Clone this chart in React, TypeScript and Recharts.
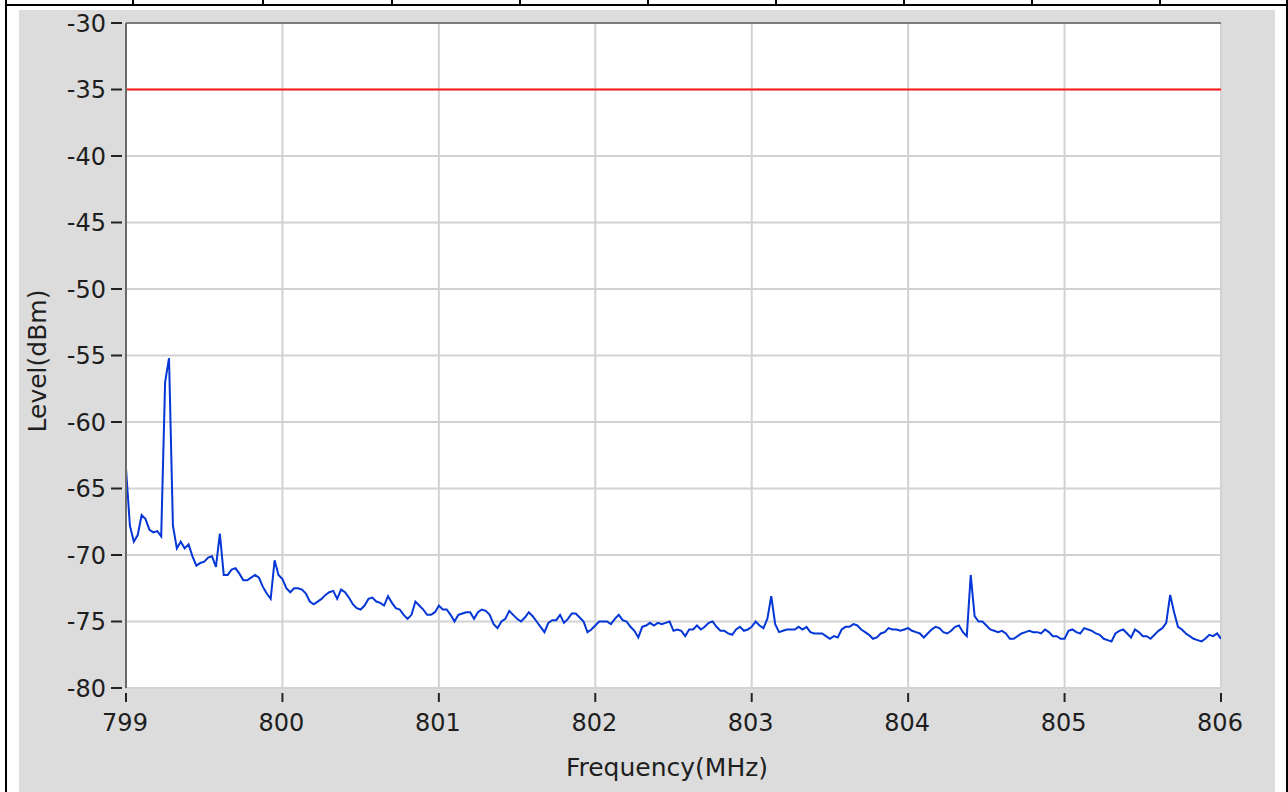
import React from 'react';
import { LineChart, Line, XAxis, YAxis, CartesianGrid, ReferenceLine } from 'recharts';

// Sweep definition
const startFreq = 799;
const freqStep = 0.025;

// Measured level (dBm) at each sweep point, 799.000 ... 806.000 MHz
const levels: number[] = [
  -63.5, -67.8, -69.0, -68.5, -67.0, -67.3, -68.1, -68.3, -68.2, -68.6,
  -57.0, -55.2, -67.8, -69.5, -69.0, -69.5, -69.2, -70.1, -70.8, -70.6,
  -70.5, -70.2, -70.1, -70.9, -68.4, -71.5, -71.5, -71.1, -71.0, -71.4,
  -71.9, -71.9, -71.7, -71.5, -71.7, -72.4, -72.9, -73.3, -70.4, -71.5,
  -71.8, -72.5, -72.8, -72.5, -72.5, -72.6, -72.9, -73.5, -73.7, -73.5,
  -73.3, -73.0, -72.8, -72.7, -73.3, -72.6, -72.8, -73.2, -73.7, -74.0,
  -74.1, -73.8, -73.3, -73.2, -73.5, -73.6, -73.8, -73.1, -73.6, -74.0,
  -74.1, -74.5, -74.8, -74.5, -73.5, -73.8, -74.1, -74.5, -74.5, -74.3,
  -73.8, -74.1, -74.1, -74.5, -75.0, -74.5, -74.4, -74.3, -74.3, -74.8,
  -74.3, -74.1, -74.2, -74.5, -75.2, -75.5, -75.0, -74.8, -74.2, -74.5,
  -74.8, -75.0, -74.7, -74.3, -74.6, -75.0, -75.4, -75.8, -75.1, -74.9,
  -74.9, -74.5, -75.1, -74.8, -74.4, -74.4, -74.7, -75.0, -75.8, -75.6,
  -75.3, -75.0, -75.0, -75.0, -75.2, -74.8, -74.5, -74.9, -75.0, -75.4,
  -75.7, -76.2, -75.4, -75.3, -75.1, -75.3, -75.1, -75.2, -75.1, -75.0,
  -75.7, -75.6, -75.7, -76.1, -75.6, -75.6, -75.3, -75.6, -75.4, -75.1,
  -75.0, -75.4, -75.7, -75.7, -75.9, -76.0, -75.6, -75.4, -75.7, -75.6,
  -75.4, -75.0, -75.3, -75.5, -74.8, -73.1, -75.2, -75.8, -75.7, -75.6,
  -75.6, -75.6, -75.4, -75.6, -75.4, -75.8, -75.9, -75.9, -75.9, -76.1,
  -76.3, -76.1, -76.2, -75.6, -75.4, -75.4, -75.2, -75.3, -75.6, -75.8,
  -76.0, -76.3, -76.2, -75.9, -75.8, -75.5, -75.6, -75.6, -75.7, -75.6,
  -75.5, -75.7, -75.8, -75.9, -76.2, -75.9, -75.6, -75.4, -75.5, -75.8,
  -75.9, -75.7, -75.4, -75.3, -75.8, -76.1, -71.5, -74.6, -75.0, -75.0,
  -75.3, -75.6, -75.7, -75.8, -75.7, -75.9, -76.3, -76.3, -76.1, -75.9,
  -75.8, -75.7, -75.8, -75.8, -75.9, -75.6, -75.8, -76.1, -76.1, -76.3,
  -76.3, -75.7, -75.6, -75.8, -75.9, -75.5, -75.6, -75.7, -75.9, -76.0,
  -76.3, -76.4, -76.5, -75.9, -75.7, -75.6, -75.9, -76.2, -75.6, -75.8,
  -76.1, -76.1, -76.3, -76.0, -75.7, -75.5, -75.1, -73.0, -74.3, -75.4,
  -75.6, -75.9, -76.1, -76.3, -76.4, -76.5, -76.3, -76.0, -76.1, -75.9, -76.3,
];

const limitLevel = -35;
const freqTicks = [799, 800, 801, 802, 803, 804, 805, 806];
const levelTicks = [-80, -75, -70, -65, -60, -55, -50, -45, -40, -35, -30];
const headerSeparators = [133, 263, 392, 520, 648, 776, 904, 1032, 1160];

const data = levels.map((v, i) => ({ f: +(startFreq + i * freqStep).toFixed(3), v }));

const FONT = '"DejaVu Sans", sans-serif';
const TEXT_COLOR = '#1e1e1e';

const XTick = (props: any) => {
  const { x, y, payload } = props;
  return (
    <g>
      <line x1={x} x2={x} y1={y + 5} y2={y + 14} stroke="#222" strokeWidth={2} />
      <text x={x - 1} y={y + 43} textAnchor="middle" fontFamily={FONT} fontSize={24} fill={TEXT_COLOR}>
        {payload.value}
      </text>
    </g>
  );
};

const YTick = (props: any) => {
  const { x, y, payload } = props;
  return (
    <g>
      <line x1={x - 15} x2={x - 4} y1={y} y2={y} stroke="#222" strokeWidth={2} />
      <text x={x - 20} y={y} dy="0.36em" textAnchor="end" fontFamily={FONT} fontSize={24} fill={TEXT_COLOR}>
        {payload.value}
      </text>
    </g>
  );
};

export default function App() {
  return (
    <div style={{ position: 'absolute', left: 0, top: 0, width: 1288, height: 792, background: '#ffffff', overflow: 'hidden', fontFamily: FONT }}>
      <div style={{ position: 'absolute', left: 5, top: 0, width: 2, height: 792, background: '#000' }} />
      <div style={{ position: 'absolute', left: 1286, top: 0, width: 2, height: 792, background: '#000' }} />
      <div style={{ position: 'absolute', left: 5, top: 4, width: 1283, height: 2, background: '#000' }} />
      {headerSeparators.map((x) => (
        <div key={x} style={{ position: 'absolute', left: x - 1, top: 0, width: 2, height: 5, background: '#000' }} />
      ))}
      <div style={{ position: 'absolute', left: 19, top: 10, width: 1256, height: 782, background: '#dcdcdc' }} />
      <div style={{ position: 'absolute', left: 0, top: 0 }}>
        <LineChart width={1288} height={792} data={data} margin={{ top: 23, right: 67, bottom: 44, left: 26 }}>
          <CartesianGrid stroke="#d2d2d2" strokeWidth={2} fill="#ffffff" fillOpacity={1} />
          <XAxis
            dataKey="f"
            type="number"
            domain={[799, 806]}
            ticks={freqTicks}
            allowDataOverflow
            height={60}
            axisLine={false}
            tickLine={false}
            tickSize={0}
            tickMargin={0}
            tick={<XTick />}
            interval={0}
          />
          <YAxis
            type="number"
            domain={[-80, -30]}
            ticks={levelTicks}
            allowDataOverflow
            width={100}
            axisLine={{ stroke: '#6a6a6a', strokeWidth: 2 }}
            tickLine={false}
            tickSize={0}
            tickMargin={0}
            tick={<YTick />}
            interval={0}
          />
          <ReferenceLine y={-30} stroke="#7c7c7c" strokeWidth={2} />
          <ReferenceLine y={limitLevel} stroke="#ff1a1a" strokeWidth={2} />
          <Line
            type="linear"
            dataKey="v"
            stroke="#0536d6"
            strokeWidth={2}
            dot={false}
            activeDot={false}
            isAnimationActive={false}
          />
        </LineChart>
      </div>
      <div
        style={{
          position: 'absolute',
          left: 37,
          top: 361,
          transform: 'translate(-50%, -50%) rotate(-90deg)',
          fontSize: 25,
          color: TEXT_COLOR,
          whiteSpace: 'nowrap',
          lineHeight: 1,
        }}
      >
        Level(dBm)
      </div>
      <div
        style={{
          position: 'absolute',
          left: 667,
          top: 767,
          transform: 'translate(-50%, -50%)',
          fontSize: 25,
          color: TEXT_COLOR,
          whiteSpace: 'nowrap',
          lineHeight: 1,
        }}
      >
        Frequency(MHz)
      </div>
    </div>
  );
}
